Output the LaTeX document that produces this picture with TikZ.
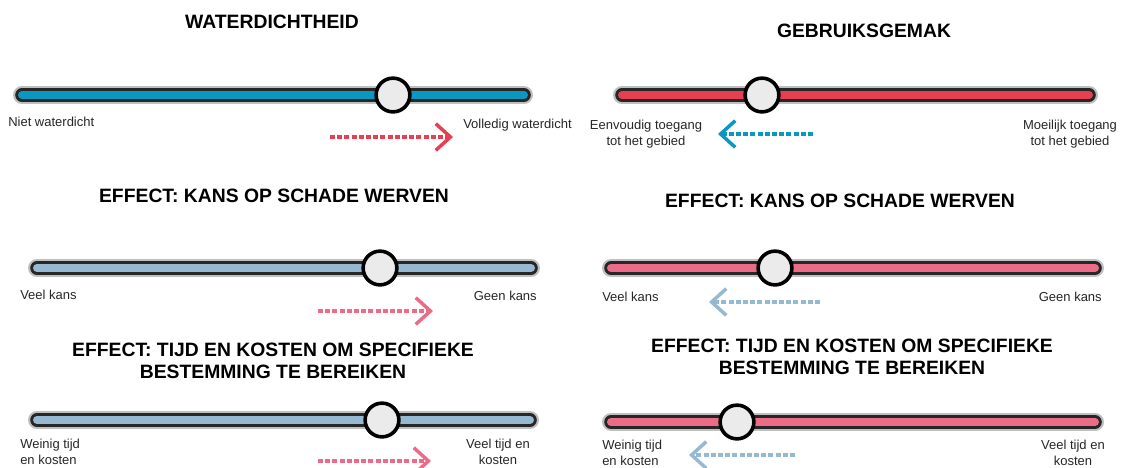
\documentclass[tikz,border=0pt]{standalone}
\usepackage{fontspec}
\setmainfont{Liberation Sans}
\usetikzlibrary{arrows.meta}
\definecolor{cblue}{HTML}{0A97C2}
\definecolor{cred}{HTML}{E63E52}
\definecolor{clblue}{HTML}{95B9D0}
\definecolor{cpink}{HTML}{EC6B87}
\definecolor{cknob}{HTML}{EBEBEB}
\definecolor{ctxt}{HTML}{262626}
\tikzset{
 heading/.style={font=\fontsize{14.5}{16.5}\selectfont\bfseries, align=center, inner sep=0pt},
 lbl/.style={font=\fontsize{9.75}{12}\selectfont, inner sep=0pt, text=ctxt},
 halo/.style={line width=13.5pt, draw=black!25, line cap=round},
 rim/.style={line width=10.2pt, draw=black!85, line cap=round},
 fillbar/.style={line width=6pt, draw=#1, line cap=round},
 knob/.style={circle, minimum size=25.3pt, fill=cknob, draw=black, line width=2.7pt, inner sep=0pt},
 hint/.style={draw=#1, line width=2.6pt, dash pattern=on 3.75pt off 1.65pt,
   -{Straight Barb[length=11pt,width=20pt,line width=2.6pt]}},
}
\begin{document}
\begin{tikzpicture}[x=0.75pt,y=-0.75pt]
\path[use as bounding box] (0,0) rectangle (1122,468);

% headings
\node[heading] (h1) at (272,22) {WATERDICHTHEID};
\node[heading] (h2) at (864,31) {GEBRUIKSGEMAK};
\node[heading] (h3) at (274,196) {EFFECT: KANS OP SCHADE WERVEN};
\node[heading] (h4) at (840,201) {EFFECT: KANS OP SCHADE WERVEN};
\node[heading] (h5) at (273,361) {EFFECT: TIJD EN KOSTEN OM SPECIFIEKE\\BESTEMMING TE BEREIKEN};
\node[heading] (h6) at (852,357) {EFFECT: TIJD EN KOSTEN OM SPECIFIEKE\\BESTEMMING TE BEREIKEN};

% slider 1
\coordinate (b1l) at (22,95); \coordinate (b1r) at (524,95);
\draw[halo] (b1l) -- (b1r); \draw[rim] (b1l) -- (b1r); \draw[fillbar=cblue] (b1l) -- (b1r);
\node[knob] (k1) at (393,95) {};
\node[lbl, anchor=west] (l1a) at (8,122) {Niet waterdicht};
\node[lbl, anchor=west] (l1b) at (463,125) {Volledig waterdicht};
\coordinate (a1s) at (330,137); \coordinate (a1e) at (453,137);
\draw[hint=cred] (a1s) -- (a1e);

% slider 2
\coordinate (b2l) at (622,95); \coordinate (b2r) at (1089,95);
\draw[halo] (b2l) -- (b2r); \draw[rim] (b2l) -- (b2r); \draw[fillbar=cred] (b2l) -- (b2r);
\node[knob] (k2) at (762,95) {};
\node[lbl, align=center] (l2a) at (646,134) {Eenvoudig toegang\\tot het gebied};
\node[lbl, align=center] (l2b) at (1070,134) {Moeilijk toegang\\tot het gebied};
\coordinate (a2s) at (813,134); \coordinate (a2e) at (718,134);
\draw[hint=cblue] (a2s) -- (a2e);

% slider 3
\coordinate (b3l) at (37,268); \coordinate (b3r) at (531,268);
\draw[halo] (b3l) -- (b3r); \draw[rim] (b3l) -- (b3r); \draw[fillbar=clblue] (b3l) -- (b3r);
\node[knob] (k3) at (380,268) {};
\node[lbl, anchor=west] (l3a) at (20,295) {Veel kans};
\node[lbl, anchor=east] (l3b) at (537,296) {Geen kans};
\coordinate (a3s) at (318,311); \coordinate (a3e) at (433,311);
\draw[hint=cpink] (a3s) -- (a3e);

% slider 4
\coordinate (b4l) at (611,268); \coordinate (b4r) at (1095,268);
\draw[halo] (b4l) -- (b4r); \draw[rim] (b4l) -- (b4r); \draw[fillbar=cpink] (b4l) -- (b4r);
\node[knob] (k4) at (775,268) {};
\node[lbl, anchor=west] (l4a) at (602,297) {Veel kans};
\node[lbl, anchor=east] (l4b) at (1102,297) {Geen kans};
\coordinate (a4s) at (820,302); \coordinate (a4e) at (709,302);
\draw[hint=clblue] (a4s) -- (a4e);

% slider 5
\coordinate (b5l) at (37,420); \coordinate (b5r) at (530,420);
\draw[halo] (b5l) -- (b5r); \draw[rim] (b5l) -- (b5r); \draw[fillbar=clblue] (b5l) -- (b5r);
\node[knob] (k5) at (382,420) {};
\node[lbl, align=left, anchor=west] (l5a) at (20,452) {Weinig tijd\\en kosten};
\node[lbl, align=center] (l5b) at (498,452) {Veel tijd en\\kosten};
\coordinate (a5s) at (318,461); \coordinate (a5e) at (431,461);
\draw[hint=cpink] (a5s) -- (a5e);

% slider 6
\coordinate (b6l) at (611,422); \coordinate (b6r) at (1095,422);
\draw[halo] (b6l) -- (b6r); \draw[rim] (b6l) -- (b6r); \draw[fillbar=cpink] (b6l) -- (b6r);
\node[knob] (k6) at (737,422) {};
\node[lbl, align=left, anchor=west] (l6a) at (602,453) {Weinig tijd\\en kosten};
\node[lbl, align=center] (l6b) at (1073,453) {Veel tijd en\\kosten};
\coordinate (a6s) at (795,455); \coordinate (a6e) at (689,455);
\draw[hint=clblue] (a6s) -- (a6e);
\end{tikzpicture}
\end{document}
